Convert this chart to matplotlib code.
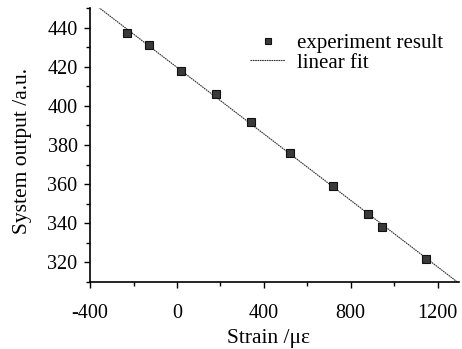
import matplotlib

matplotlib.use("Agg")
import matplotlib.pyplot as plt
import numpy as np
from matplotlib.ticker import MultipleLocator

# strain (micro-strain) and system output
strain = [-230, -130, 20, 180, 340, 520, 720, 880, 945, 1145]
output = [437, 431, 418, 406, 392, 376, 359, 345, 338, 322]
fit_range = [-370, 1290]

plt.rcParams["font.family"] = ["Liberation Serif", "DejaVu Serif"]
plt.rcParams["axes.unicode_minus"] = False

fig = plt.figure(figsize=(4.62, 3.49), dpi=100)
ax = fig.add_axes([0.195, 0.192, 0.799, 0.785])

slope, intercept = np.polyfit(strain, output, 1)
xf = np.array(fit_range)
ax.plot(xf, slope * xf + intercept, color="#333333", lw=0.8, ls=(0, (1.5, 0.6)),
        label="linear fit", zorder=2)
ax.plot(strain, output, ls="none", marker="s", ms=6.0, mfc="#3a3a3a", mec="#111111",
        mew=0.8, label="experiment result", zorder=3)

ax.set_xlim(-400, 1300)
ax.set_ylim(310, 450)
ax.xaxis.set_major_locator(MultipleLocator(400))
ax.xaxis.set_minor_locator(MultipleLocator(200))
ax.yaxis.set_major_locator(MultipleLocator(20))
ax.yaxis.set_minor_locator(MultipleLocator(10))
ax.tick_params(which="major", direction="out", length=4, width=1, labelsize=14.5)
ax.tick_params(axis="x", which="major", pad=12)
ax.tick_params(axis="y", which="major", pad=5)
ax.tick_params(which="minor", direction="out", length=3, width=1)
for s in ("top", "right"):
    ax.spines[s].set_visible(False)
for s in ("left", "bottom"):
    ax.spines[s].set_linewidth(1.2)

ax.set_xlabel("Strain /\u03bc\u03b5", fontsize=15.5)
ax.set_ylabel("System output /a.u.", fontsize=15.5)
ax.xaxis.set_label_coords(0.482, -0.172)
ax.yaxis.set_label_coords(-0.157, 0.478)

handles, labels = ax.get_legend_handles_labels()
ax.legend(handles[::-1], labels[::-1], loc="upper left", bbox_to_anchor=(0.405, 0.945),
          frameon=False, fontsize=15, handlelength=1.7, handletextpad=0.55,
          labelspacing=0.0, borderpad=0, markerscale=0.7)

fig.savefig("out.png", dpi=100)
